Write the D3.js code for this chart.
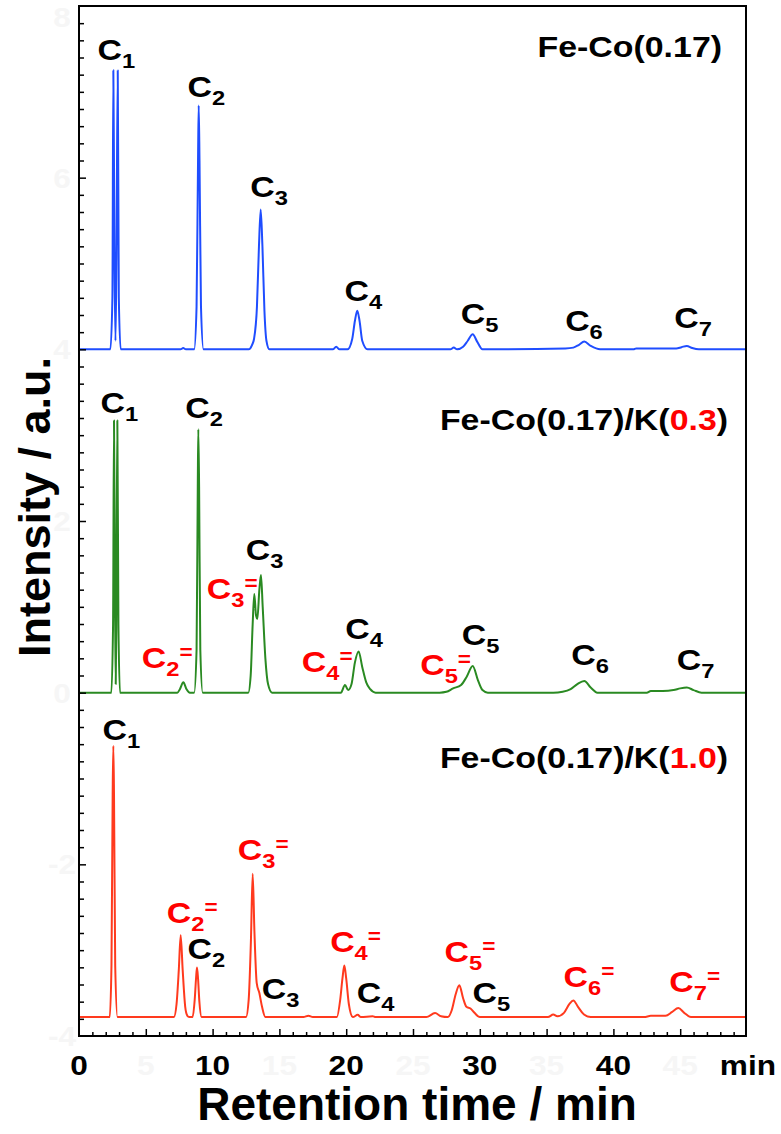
<!DOCTYPE html>
<html>
<head>
<meta charset="utf-8">
<script src="https://cdn.jsdelivr.net/npm/d3@7"></script>
<style>
  body { margin: 0; background: #fff; }
  text { font-family: "Liberation Sans", Arial, sans-serif; font-weight: bold; }
</style>
</head>
<body>
<div id="container"></div>
<script>
const width = 781;
const height = 1134;

// chromatogram traces: [retention time (min), intensity above own baseline]
const blueTrace = [
  [0,0],[2.35,0],[2.5,0.6],[2.57,3.25],[2.66,1.0],[2.73,0.1],[2.8,1.0],[2.9,3.25],[2.98,0.6],[3.12,0],
  [7.6,0],[7.8,0.015],[8.0,0],
  [8.62,0],[8.8,0.5],[8.91,2.2],[8.96,2.84],[9.02,2.2],[9.13,0.5],[9.32,0],
  [12.7,0],[12.95,0.05],[13.1,0.12],[13.32,0.5],[13.47,1.2],[13.6,1.63],[13.73,1.2],[13.88,0.45],[14.03,0.1],[14.25,0],
  [19.0,0],[19.25,0.03],[19.5,0],[20.1,0],[20.45,0.12],[20.65,0.33],[20.83,0.45],[21.0,0.33],[21.2,0.1],[21.6,0],
  [27.8,0],[28.05,0.02],[28.3,0],[28.75,0.03],[29.1,0.1],[29.47,0.175],[29.8,0.09],[30.2,0],
  [36.4,0.01],[37.0,0.02],[37.4,0.05],[37.82,0.09],[38.3,0.04],[39.0,0],
  [41.5,0],[41.7,0.01],[44.7,0.01],[45.1,0.025],[45.49,0.04],[45.9,0.015],[46.4,0],[50,0]
];

const greenTrace = [
  [0,0],[2.42,0],[2.55,0.8],[2.62,3.17],[2.7,1.0],[2.75,0.1],[2.8,1.0],[2.87,3.17],[2.95,0.8],[3.07,0],
  [7.36,0],[7.55,0.04],[7.81,0.12],[8.05,0.04],[8.3,0],
  [8.62,0],[8.8,0.5],[8.89,2.4],[8.93,3.07],[8.99,2.4],[9.08,0.5],[9.26,0],
  [12.67,0],[12.85,0.2],[13.0,0.8],[13.12,1.15],[13.25,0.9],[13.35,0.86],[13.5,1.2],[13.62,1.37],[13.75,1.0],[13.95,0.4],[14.15,0.1],[14.45,0],
  [19.6,0],[19.91,0.09],[20.15,0.03],[20.4,0.1],[20.65,0.35],[20.93,0.48],[21.2,0.3],[21.5,0.12],[21.8,0.04],[22.2,0],
  [27.0,0],[27.5,0.01],[28.0,0.05],[28.6,0.09],[29.0,0.18],[29.47,0.31],[29.85,0.15],[30.2,0.03],[30.6,0],
  [35.5,0],[36.2,0.01],[36.8,0.04],[37.3,0.1],[37.82,0.137],[38.3,0.06],[38.8,0],
  [42.5,0],[42.8,0.02],[43.7,0.02],[44.5,0.03],[45.0,0.05],[45.5,0.06],[46.0,0.03],[46.6,0],[50,0]
];

const redTrace = [
  [0,0],[2.3,0],[2.43,0.6],[2.52,2.6],[2.57,3.16],[2.62,2.6],[2.71,0.6],[2.88,0],
  [7.1,0],[7.3,0.15],[7.47,0.55],[7.61,0.955],[7.76,0.55],[7.95,0.12],[8.1,0.02],[8.25,0],
  [8.5,0],[8.66,0.2],[8.76,0.45],[8.83,0.577],[8.91,0.45],[9.01,0.18],[9.18,0],
  [12.5,0],[12.7,0.2],[12.87,0.9],[13.0,1.67],[13.13,1.0],[13.3,0.4],[13.5,0.28],[13.7,0.12],[13.95,0],
  [16.8,0],[17.17,0.016],[17.5,0],
  [19.3,0],[19.55,0.2],[19.72,0.45],[19.86,0.6],[20.0,0.45],[20.2,0.15],[20.5,0],[20.86,0.027],[21.1,0],[21.98,0.01],[22.2,0],
  [26.0,0],[26.65,0.047],[27.1,0.01],[27.6,0],[27.9,0.08],[28.2,0.27],[28.47,0.37],[28.75,0.22],[29.0,0.12],[29.3,0.10],[29.6,0.05],[30.0,0],
  [35.1,0],[35.5,0.03],[35.8,0.01],[36.3,0.05],[36.7,0.15],[37.0,0.195],[37.35,0.12],[37.8,0.03],[38.3,0],
  [42.3,0],[42.8,0.015],[43.9,0.015],[44.4,0.06],[44.86,0.105],[45.3,0.05],[45.8,0],[50,0]
];

const traceOffsets = { blue: 4, green: 0, red: -3.78 };
const traceColors = { blue: "#1f4dff", green: "#2a8a22", red: "#ff3a1e" };

// panel titles: [plain part, red part, closing part]
const titles = [
  { text: "Fe-Co(0.17)", red: "", tail: "", t: 48.13, v: 7.41 },
  { text: "Fe-Co(0.17)/K(", red: "0.3", tail: ")", t: 48.58, v: 3.06 },
  { text: "Fe-Co(0.17)/K(", red: "1.0", tail: ")", t: 48.58, v: -0.88 }
];

// peak labels: carbon number, olefin (=) or paraffin, position (left edge, baseline)
const peakLabels = [
  { n: "1", ene: false, t: 1.50, v: 7.37 },
  { n: "2", ene: false, t: 8.23, v: 6.94 },
  { n: "3", ene: false, t: 12.93, v: 5.78 },
  { n: "4", ene: false, t: 19.99, v: 4.56 },
  { n: "5", ene: false, t: 28.69, v: 4.29 },
  { n: "6", ene: false, t: 36.50, v: 4.21 },
  { n: "7", ene: false, t: 44.66, v: 4.25 },

  { n: "1", ene: false, t: 1.72, v: 3.26 },
  { n: "2", ene: false, t: 8.06, v: 3.20 },
  { n: "2", ene: true,  t: 4.81, v: 0.29 },
  { n: "3", ene: false, t: 12.60, v: 1.55 },
  { n: "3", ene: true,  t: 9.68, v: 1.09 },
  { n: "4", ene: false, t: 20.04, v: 0.62 },
  { n: "4", ene: true,  t: 16.79, v: 0.24 },
  { n: "5", ene: true,  t: 25.65, v: 0.21 },
  { n: "5", ene: false, t: 28.77, v: 0.56 },
  { n: "6", ene: false, t: 36.95, v: 0.32 },
  { n: "7", ene: false, t: 44.86, v: 0.26 },

  { n: "1", ene: false, t: 1.87, v: -0.55 },
  { n: "2", ene: true,  t: 6.68, v: -2.68 },
  { n: "2", ene: false, t: 8.23, v: -3.10 },
  { n: "3", ene: true,  t: 12.00, v: -1.95 },
  { n: "3", ene: false, t: 13.79, v: -3.57 },
  { n: "4", ene: true,  t: 18.91, v: -3.02 },
  { n: "4", ene: false, t: 20.91, v: -3.62 },
  { n: "5", ene: true,  t: 27.47, v: -3.14 },
  { n: "5", ene: false, t: 29.57, v: -3.62 },
  { n: "6", ene: true,  t: 36.38, v: -3.43 },
  { n: "7", ene: true,  t: 44.29, v: -3.49 }
];

const xTickLabels = [0, 10, 20, 30, 40];
const xFaintLabels = [5, 15, 25, 35, 45];
const yFaintLabels = [-4, -2, 0, 2, 4, 6, 8];

const stretch = 1.13;

const x = d3.scaleLinear().domain([0, 50]).range([79, 747]);
const y = d3.scaleLinear().domain([-4, 8]).range([1036, 6]);

const svg = d3.create("svg")
  .attr("width", width)
  .attr("height", height)
  .attr("viewBox", [0, 0, width, height]);

// stretched text helper (the figure's lettering is wider than Arial)
function stext(px, py, size, anchor, sx = stretch) {
  return svg.append("g")
    .attr("transform", `translate(${px},${py}) scale(${sx},1)`)
    .append("text")
    .attr("text-anchor", anchor)
    .attr("font-size", size);
}

// faint background numbers (nearly invisible in the original)
xFaintLabels.forEach(d => {
  stext(x(d), 1075, 28, "middle").attr("fill", "#f6f6f6").text(d);
});
yFaintLabels.forEach(d => {
  stext(62, Math.max(y(d) + 10, 27), 28, "middle").attr("fill", "#f6f6f6").text(d);
});

// traces
const line = d3.line()
  .x(d => x(d[0]))
  .curve(d3.curveMonotoneX);

[["blue", blueTrace], ["green", greenTrace], ["red", redTrace]].forEach(([key, tr]) => {
  svg.append("path")
    .datum(tr)
    .attr("fill", "none")
    .attr("stroke", traceColors[key])
    .attr("stroke-width", 2)
    .attr("stroke-linejoin", "round")
    .attr("d", line.y(d => y(d[1] + traceOffsets[key])));
});

// frame
svg.append("rect")
  .attr("x", x(0)).attr("y", y(8))
  .attr("width", x(50) - x(0) - 1).attr("height", y(-4) - y(8))
  .attr("fill", "none").attr("stroke", "#000").attr("stroke-width", 2);

// bottom ticks (inward): every minute, long every 5
svg.append("g")
  .attr("transform", `translate(0,${y(-4)})`)
  .call(d3.axisTop(x).tickValues(d3.range(1, 50)).tickSize(4).tickFormat(""))
  .call(g => g.select(".domain").remove())
  .call(g => g.selectAll(".tick line")
    .attr("stroke-width", 1.5)
    .attr("y2", d => d % 5 === 0 ? -7 : -4));

// left ticks (inward): every 0.2, long every 2
svg.append("g")
  .attr("transform", `translate(${x(0)},0)`)
  .call(d3.axisRight(y).tickValues(d3.range(-3.8, 8, 0.2).map(d => +d.toFixed(1))).tickFormat(""))
  .call(g => g.select(".domain").remove())
  .call(g => g.selectAll(".tick line")
    .attr("stroke-width", 1.5)
    .attr("x2", d => Math.abs(d % 2) < 1e-6 ? 7 : 5));

// x tick labels
xTickLabels.forEach(d => {
  stext(x(d), 1075, 28, "middle").attr("fill", "#000").text(d);
});
stext(776, 1075, 28, "end").attr("fill", "#000").text("min");

// axis titles
svg.append("text")
  .attr("x", 417).attr("y", 1120)
  .attr("text-anchor", "middle")
  .attr("font-size", 46)
  .text("Retention time / min");

svg.append("text")
  .attr("transform", `translate(50,507) rotate(-90)`)
  .attr("text-anchor", "middle")
  .attr("font-size", 45)
  .text("Intensity / a.u.");

// panel titles
titles.forEach(d => {
  const t = stext(x(d.t), y(d.v), 30, "end").attr("fill", "#000");
  t.append("tspan").text(d.text);
  if (d.red) {
    t.append("tspan").attr("fill", "#ff0000").text(d.red);
    t.append("tspan").text(d.tail);
  }
});

// peak labels
peakLabels.forEach(d => {
  const t = stext(x(d.t) - 1.5, y(d.v), 30, "start")
    .attr("fill", d.ene ? "#ff0000" : "#000");
  t.append("tspan").text("C");
  t.append("tspan").attr("font-size", 21).attr("dy", 8).text(d.n);
  if (d.ene) t.append("tspan").attr("font-size", 20).attr("dy", -17).text("=");
});

document.getElementById("container").appendChild(svg.node());
</script>
</body>
</html>
